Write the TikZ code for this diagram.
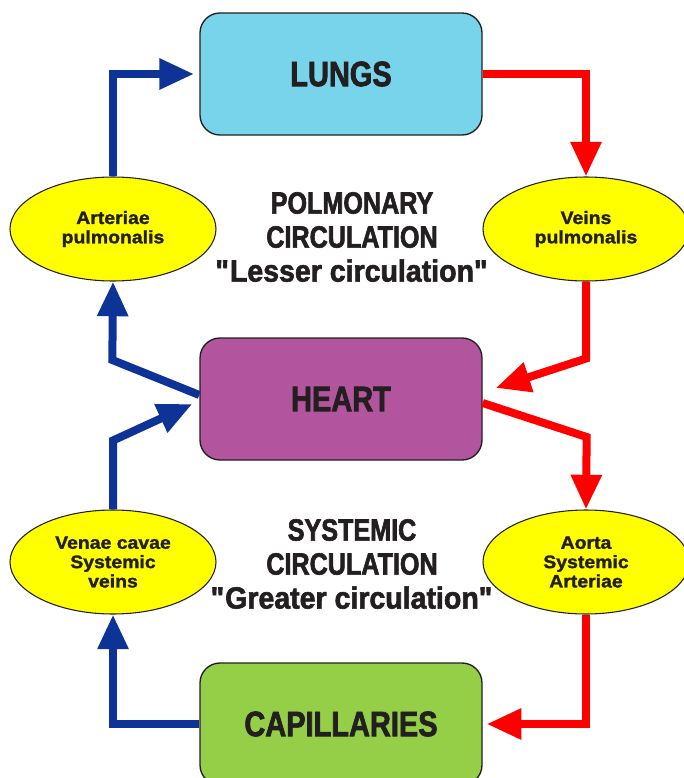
\documentclass[tikz,border=0pt]{standalone}
\usepackage{fontspec}
\setmainfont{Liberation Sans Bold}[FakeStretch=0.82,FakeBold=2]
\newfontfamily\quotefont{Liberation Sans Bold}[FakeStretch=0.93,FakeBold=2]
\newfontfamily\vesselfont{Liberation Sans Bold}[FakeStretch=1.08,FakeBold=1.5]
\usetikzlibrary{arrows.meta,shapes.geometric}
\definecolor{LungCyan}{HTML}{77D4EA}
\definecolor{HeartPurple}{HTML}{B2559E}
\definecolor{CapGreen}{HTML}{95CF48}
\definecolor{VesselYellow}{HTML}{FFFF00}
\definecolor{VenBlue}{HTML}{0E3396}
\definecolor{ArtRed}{HTML}{FF0000}
\definecolor{InkDark}{HTML}{231F20}

\tikzset{
  organ/.style={draw=InkDark,line width=1pt,rounded corners=15pt,
    minimum width=211.5pt,minimum height=91.5pt,text=InkDark,
    font=\fontsize{26.5}{30}\selectfont},
  vessel/.style={ellipse,draw=InkDark,line width=.8pt,fill=VesselYellow,
    minimum width=154.5pt,minimum height=78pt,inner sep=0pt,align=center,
    text=InkDark,font=\vesselfont\fontsize{13.5}{14.5}\selectfont},
  circlabel/.style={align=center,text=InkDark,
    font=\fontsize{23}{25.5}\selectfont},
  venous/.style={draw=VenBlue,line width=6pt,-{Triangle[length=26pt,width=22pt]}},
  arterial/.style={draw=ArtRed,line width=6pt,-{Triangle[length=26pt,width=22pt]}},
}

\begin{document}
\begin{tikzpicture}[x=.75pt,y=-.75pt]
\useasboundingbox (0,0) rectangle (684,778);

% organs
\node[organ,fill=LungCyan] (lungs) at (341,74) {LUNGS};
\node[organ,fill=HeartPurple] (heart) at (341,399) {HEART};
\node[organ,fill=CapGreen] (capillaries) at (341,724) {CAPILLARIES};

% vessels
\node[vessel] (arteriae) at (113,229) {Arteriae\\pulmonalis};
\node[vessel] (veins) at (586,229) {Veins\\pulmonalis};
\node[vessel] (venae) at (113,562) {Venae cavae\\Systemic\\veins};
\node[vessel] (aorta) at (586,562) {Aorta\\Systemic\\Arteriae};

% circuit titles
\node[circlabel] (pulmonary) at (352,237)
  {POLMONARY\\CIRCULATION\\{\quotefont\textquotedbl Lesser circulation\textquotedbl}};
\node[circlabel] (systemic) at (352,564)
  {SYSTEMIC\\CIRCULATION\\{\quotefont\textquotedbl Greater circulation\textquotedbl}};

% pulmonary loop
\draw[venous] (arteriae.north) |- ([xshift=-4pt]lungs.west);
\draw[arterial] (lungs.east) -| (veins.north);
\draw[arterial] (veins.south) -- ++(0,77) -- ([shift={(13,-11)}]heart.east);
\draw[venous] ([shift={(0,-4)}]heart.west) -- ++(-87,-35) -- (arteriae.south);

% systemic loop
\draw[arterial] ([shift={(0,4)}]heart.east) -- ++(104,34) -- (aorta.north);
\draw[arterial] (aorta.south) |- ([xshift=3pt]capillaries.east);
\draw[venous] (capillaries.west) -| (venae.south);
\draw[venous] (venae.north) -- ++(0,-69) -- ([shift={(-7,5)}]heart.west);
\end{tikzpicture}
\end{document}
